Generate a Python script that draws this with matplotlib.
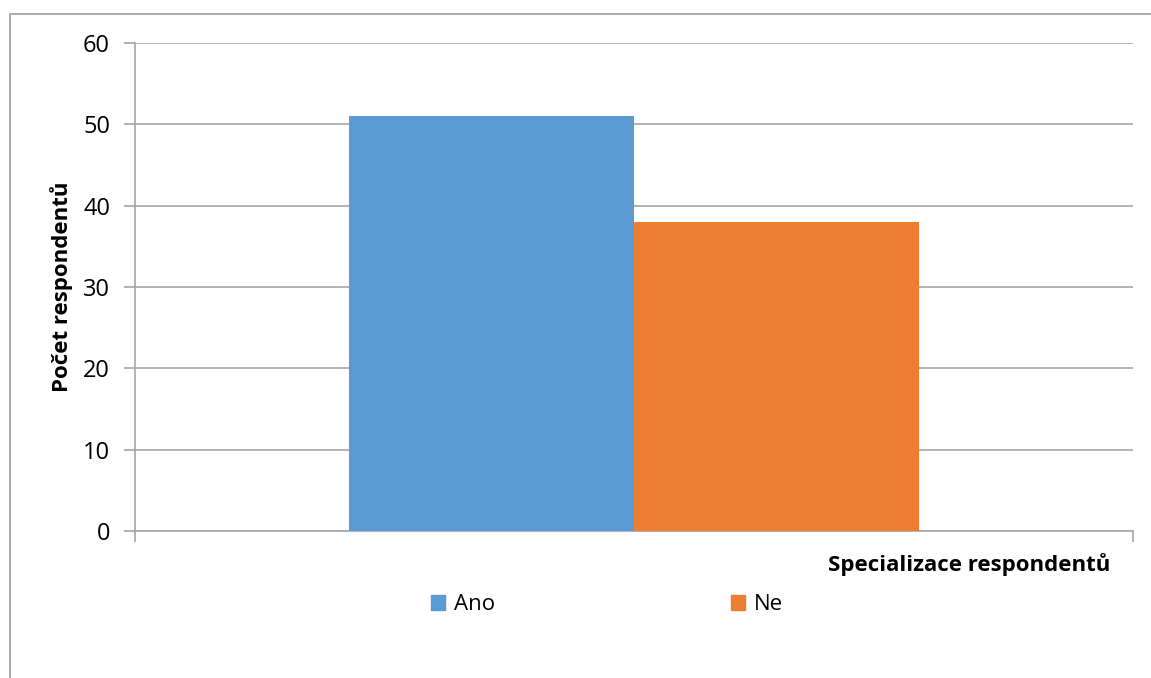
import matplotlib.pyplot as plt
from matplotlib.patches import Rectangle, Patch

plt.rcParams['font.family'] = ['Open Sans', 'DejaVu Sans']

series = ["Ano", "Ne"]
values = [51, 38]
colors = ["#5b9bd5", "#ed7d31"]
yticks = [0, 10, 20, 30, 40, 50, 60]

fig = plt.figure(figsize=(11.51, 6.78), dpi=100)
ax = fig.add_axes([0.1173, 0.2168, 0.8671, 0.7198])

# outer chart border (cut by the image edge on right and bottom)
fig.patches.append(Rectangle((10 / 1151, -0.2), 1.2, 1.2 - 14 / 678,
                             transform=fig.transFigure, fill=False,
                             edgecolor="#a6a6a6", linewidth=1.3))

w = 0.2856
ax.bar(0 - w, values[0], width=w, align='edge', color=colors[0], zorder=3)
ax.bar(0, values[1], width=w, align='edge', color=colors[1], zorder=3)

ax.set_xlim(-0.5, 0.5)
ax.set_ylim(0, 60)
ax.set_yticks(yticks)
ax.yaxis.grid(True, color="#a6a6a6", linewidth=1.2)
ax.set_axisbelow(True)
ax.set_xticks([-0.5, 0.5])
ax.set_xticklabels(["", ""])
ax.tick_params(axis='x', length=8, color="#a6a6a6", width=1.2)
ax.tick_params(axis='y', length=8, color="#a6a6a6", width=1.2, labelsize=17, pad=10)
for s in ["top", "right"]:
    ax.spines[s].set_visible(False)
for s in ["left", "bottom"]:
    ax.spines[s].set_color("#a6a6a6")
    ax.spines[s].set_linewidth(1.2)

fig.text(62 / 1151, 1 - 287 / 678, "Počet respondentů", rotation=90,
         ha='center', va='center', fontsize=16, fontweight='bold')
fig.text(1110 / 1151, 1 - 565 / 678, "Specializace respondentů",
         ha='right', va='center', fontsize=16, fontweight='bold')

handles = [Patch(color=c) for c in colors]
fig.legend(handles, series, loc='center', bbox_to_anchor=(607 / 1151, 1 - 605 / 678),
           ncol=2, frameon=False, fontsize=16, handlelength=0.65, handleheight=0.65,
           columnspacing=10.6, handletextpad=0.4)

fig.savefig("out.png", dpi=100)
